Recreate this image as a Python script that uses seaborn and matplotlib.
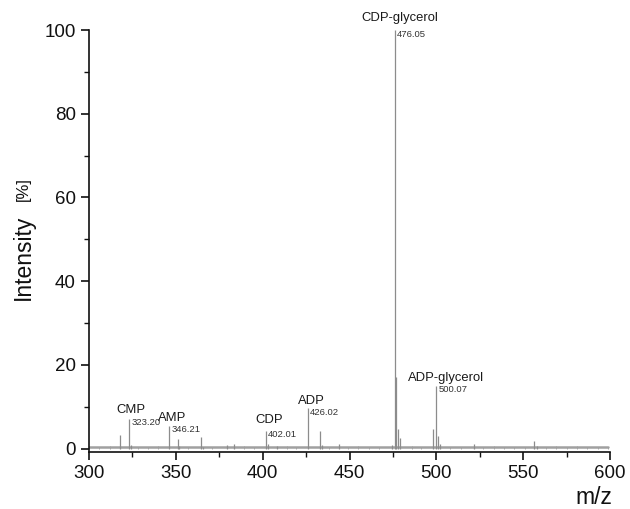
import matplotlib
matplotlib.use('Agg')
import matplotlib.pyplot as plt
import seaborn as sns
import pandas as pd
from matplotlib.ticker import MultipleLocator

sns.set_style("ticks")
plt.rcParams['font.family'] = ['Liberation Sans', 'DejaVu Sans']

# peak list (m/z, relative intensity %)
peak_mz = [318.0, 323.2, 324.2, 346.21, 351.1, 352.1, 364.5, 365.5, 379.3, 383.7,
           402.01, 403.0, 408.0, 426.02, 432.8, 434.0, 443.7, 474.5, 476.05, 477.0,
           478.0, 479.0, 498.0, 500.07, 501.0, 502.0, 521.6, 556.3, 558.0]
peak_int = [3.3, 7.2, 0.8, 5.5, 2.4, 0.6, 2.9, 0.5, 0.8, 1.0,
            4.3, 1.2, 0.6, 9.6, 4.1, 0.8, 1.0, 0.8, 100.0, 17.0,
            4.8, 2.5, 4.8, 15.0, 3.0, 1.0, 1.2, 1.8, 0.7]

# baseline grass (approximate)
noise_mz = [300, 306, 312, 328, 334, 340, 357, 371, 389, 395, 414, 419, 438, 449,
            455, 461, 467, 486, 491, 508, 514, 527, 533, 539, 545, 551, 563, 569,
            575, 581, 587, 593, 599]
noise_int = [0.5, 0.4, 0.6, 0.5, 0.4, 0.6, 0.5, 0.4, 0.6, 0.5, 0.7, 0.4, 0.5, 0.4,
             0.6, 0.4, 0.5, 0.6, 0.4, 0.5, 0.4, 0.5, 0.6, 0.4, 0.5, 0.4, 0.5, 0.6,
             0.5, 0.6, 0.4, 0.5, 0.4]

# labelled peaks
lab_name = ['CMP', 'AMP', 'CDP', 'ADP', 'CDP-glycerol', 'ADP-glycerol']
lab_mz = [323.2, 346.21, 402.01, 426.02, 476.05, 500.07]
lab_int = [7.2, 5.5, 4.3, 9.6, 100.0, 15.0]
lab_text = ['323.20', '346.21', '402.01', '426.02', '476.05', '500.07']
name_dx = [2, 3, 3, 3, 5, 10]  # px offsets
name_dy = [9, 8, 11, 7, 12, 8]

peaks = pd.DataFrame({'mz': peak_mz, 'intensity': peak_int})
noise = pd.DataFrame({'mz': noise_mz, 'intensity': noise_int})

fig = plt.figure(figsize=(6.3, 5.09), dpi=100)
ax = fig.add_axes([89 / 630, 1 - 452 / 509, 521 / 630, 422 / 509])

ax.vlines(noise['mz'], 0, noise['intensity'], color='#9a9a9a', lw=0.6)
sns.lineplot(data=noise, x='mz', y=[0.3] * len(noise), ax=ax, color='#a0a0a0', lw=1.8)
ax.vlines(peaks['mz'], 0, peaks['intensity'], color='#8c8c8c', lw=0.9)

pt = 0.72
for name, mz, h, txt, dx, dy in zip(lab_name, lab_mz, lab_int, lab_text, name_dx, name_dy):
    ax.annotate(name, (mz, h), xytext=(dx * pt, dy * pt), textcoords='offset points',
                ha='center', va='center', fontsize=9.4, color='#1a1a1a')
    ax.annotate(txt, (mz, h), xytext=(2 * pt, -4 * pt), textcoords='offset points',
                ha='left', va='center', fontsize=6.8, color='#333333')

ax.set_xlim(300, 600)
ax.set_ylim(-0.8, 100)
ax.xaxis.set_major_locator(MultipleLocator(50))
ax.xaxis.set_minor_locator(MultipleLocator(25))
ax.yaxis.set_major_locator(MultipleLocator(20))
ax.yaxis.set_minor_locator(MultipleLocator(10))
ax.tick_params(which='major', length=6, width=1.2, labelsize=13.5, colors='#111111')
ax.tick_params(which='minor', length=3.5, width=1.0, colors='#111111')
ax.set_xlabel('')
ax.set_ylabel('')
for s in ['left', 'bottom']:
    ax.spines[s].set_linewidth(1.2)
    ax.spines[s].set_color('#111111')
sns.despine(ax=ax)

fig.text(23 / 630, 1 - 257 / 509, 'Intensity', rotation=90, ha='center', va='center',
         fontsize=16.5, color='#111111')
fig.text(23 / 630, 1 - 189 / 509, '[%]', rotation=90, ha='center', va='center',
         fontsize=12, color='#111111')
fig.text(594 / 630, 1 - 497 / 509, 'm/z', ha='center', va='center', fontsize=16.5,
         color='#111111')

fig.savefig('out.png', dpi=100)
